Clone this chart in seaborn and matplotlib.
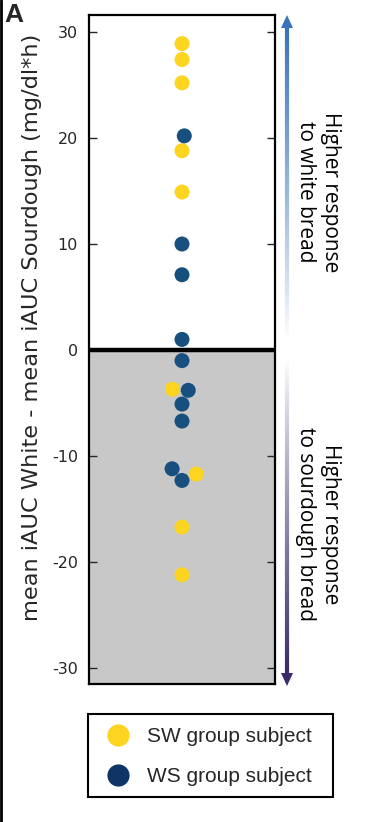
import numpy as np
import pandas as pd
import matplotlib
matplotlib.use("Agg")
import matplotlib.pyplot as plt
import seaborn as sns
from matplotlib.lines import Line2D
from matplotlib.collections import LineCollection
from matplotlib.patches import Polygon, Rectangle
import matplotlib.colors as mcolors

# ---- data ----
sw_values = [28.9, 27.4, 25.2, 18.8, 14.9, -3.7, -11.7, -16.7, -21.2]
ws_values = [20.2, 10.0, 7.1, 1.0, -1.0, -3.8, -5.1, -6.7, -11.2, -12.3]
group_labels = ["SW group subject", "WS group subject"]
y_ticks = [30, 20, 10, 0, -10, -20, -30]
y_label = "mean iAUC White - mean iAUC Sourdough (mg/dl*h)"
arrow_texts = ["Higher response\nto white bread", "Higher response\nto sourdough bread"]

yellow = "#FDD420"
blue = "#17507f"
legend_blue = "#0f3566"

df = pd.DataFrame({
    "value": sw_values + ws_values,
    "group": [group_labels[0]] * len(sw_values) + [group_labels[1]] * len(ws_values),
    "cat": ["all"] * (len(sw_values) + len(ws_values)),
})

sns.set_style("white")
plt.rcParams["font.family"] = ["DejaVu Sans"]

W, H = 367, 822
fig = plt.figure(figsize=(W / 100, H / 100), dpi=100)
ax = fig.add_axes([89 / W, 1 - 684 / H, (275 - 89) / W, (684 - 15) / H])

ylim = (-31.5, 31.6)
ax.axhspan(ylim[0], 0, color="#c8c8c8", zorder=0, lw=0)
ax.axhline(0, color="black", lw=3.2, zorder=1)

sns.swarmplot(data=df, x="cat", y="value", hue="group",
              palette={group_labels[0]: yellow, group_labels[1]: blue},
              size=10.8, ax=ax, legend=False, zorder=3, linewidth=0)

ax.set_ylim(*ylim)
ax.set_xlim(-0.5, 0.5)

# let seaborn compute the swarm, then mirror it (side preference as in the reference)
fig.canvas.draw()
for coll in ax.collections:
    if "draw" in coll.__dict__:
        offs = np.array(coll.get_offsets())
        offs[:, 0] = -offs[:, 0]
        del coll.draw
        coll.set_offsets(offs)

ax.set_xticks([])
ax.set_xlabel("")
ax.set_yticks(y_ticks)
ax.set_yticklabels([str(t) for t in y_ticks], fontsize=11.5)
ax.tick_params(axis="y", direction="in", length=6, width=1, left=True, right=True,
               labelleft=True, labelright=False, pad=8)
ax.set_ylabel(y_label, fontsize=16.2)
ax.yaxis.set_label_coords((42 - 89) / 186, (684 - 327) / 669)
for s in ax.spines.values():
    s.set_color("black")
    s.set_linewidth(1.6)
    s.set_visible(True)

# ---- overlay in pixel coordinates ----
ov = fig.add_axes([0, 0, 1, 1], zorder=5)
ov.set_xlim(0, W)
ov.set_ylim(H, 0)
ov.axis("off")
ov.patch.set_alpha(0)

ov.plot([1, 1], [0, H], color="black", lw=2)

def grad_arrow(x, y_start, y_end, color, head_len=13, head_w=12, n=120):
    c_end = np.array(mcolors.to_rgb(color))
    white = np.array([1, 1, 1])
    direction = np.sign(y_end - y_start)
    shaft_end = y_end - direction * head_len
    ys = np.linspace(y_start, shaft_end, n + 1)
    segs = [[(x, ys[i]), (x, ys[i + 1])] for i in range(n)]
    t = np.linspace(0, 1, n)
    cols = [white * (1 - tt ** 0.9) + c_end * tt ** 0.9 for tt in t]
    ov.add_collection(LineCollection(segs, colors=cols, linewidths=3.0, capstyle="butt"))
    ov.add_patch(Polygon([(x - head_w / 2, shaft_end), (x + head_w / 2, shaft_end), (x, y_end)],
                         closed=True, color=color, lw=0))

grad_arrow(287, 340, 15, "#3a73ba")
grad_arrow(287, 358, 686, "#3c2a6c")

ov.text(318, 192, arrow_texts[0], rotation=-90, ha="center", va="center",
        fontsize=15, family="Open Sans", linespacing=1.25, color="black")
ov.text(318, 524, arrow_texts[1], rotation=-90, ha="center", va="center",
        fontsize=15, family="Open Sans", linespacing=1.25, color="black")

ov.text(4, 3, "A", fontsize=19, fontweight="bold", family="Liberation Sans",
        ha="left", va="top")

# legend frame
ov.add_patch(Rectangle((88, 714), 333 - 88, 797 - 714, fill=False,
                       edgecolor="black", lw=1.5))

handles = [Line2D([], [], marker="o", ls="", markersize=16, markerfacecolor=yellow,
                  markeredgewidth=0),
           Line2D([], [], marker="o", ls="", markersize=16, markerfacecolor=legend_blue,
                  markeredgewidth=0)]
leg = fig.legend(handles, group_labels, loc="upper left",
                 bbox_to_anchor=(107.6 / W, 1 - 727 / H), frameon=False,
                 prop={"family": "Liberation Sans", "size": 15},
                 handletextpad=0.9, borderpad=0, borderaxespad=0,
                 labelspacing=1.02, handlelength=1.0)

fig.savefig("out.png", dpi=100)
